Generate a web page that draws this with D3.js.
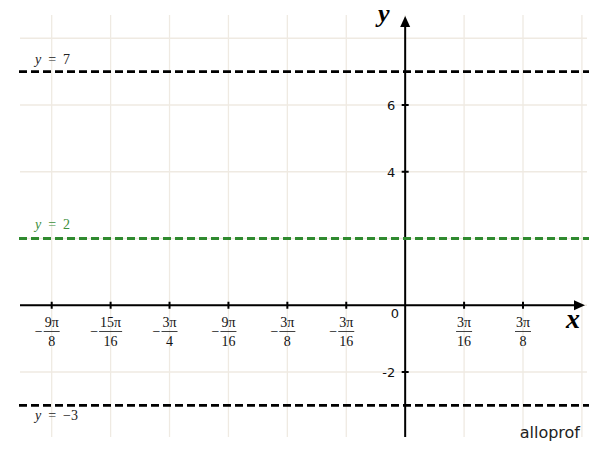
<!DOCTYPE html>
<html><head><meta charset="utf-8">
<script src="https://cdn.jsdelivr.net/npm/d3@7"></script>
<style>body{margin:0;background:#fff}svg{display:block}</style>
</head><body>
<script>
// Data (x in units of π)
const xTickValues = [-9/8, -15/16, -3/4, -9/16, -3/8, -3/16, 3/16, 3/8];
const xTickNum = ["9π","15π","3π","9π","3π","3π","3π","3π"];
const xTickDen = ["8","16","4","16","8","16","16","8"];
const xGridValues = [-9/8, -15/16, -3/4, -9/16, -3/8, -3/16, 0, 3/16, 3/8, 9/16];
const yTickValues = [6, 4, -2];
const yTickLabels = ["6", "4", "-2"];
const yGridValues = [8, 6, 4, 2, 0, -2];
const hLines = [7, 2, -3];
const hLineLabels = ["7", "2", "−3"];
const hLineColors = ["#000", "#2f8a2f", "#000"];
const hLineTextColors = ["#222", "#3d8f3d", "#222"];

const W = 600, H = 457;
const x = d3.scaleLinear().domain([-9/8, 3/8]).range([51.7, 523]);
const y = d3.scaleLinear().domain([6, -2]).range([105, 372]);

const svg = d3.select("body").append("svg").attr("width", W).attr("height", H);

const xLeft = 20, xRight = 587, yTop = 15, yBottom = 437;

// grid
svg.append("g").selectAll("line").data(xGridValues).join("line")
  .attr("x1", d => x(d)).attr("x2", d => x(d)).attr("y1", yTop).attr("y2", yBottom)
  .attr("stroke", "#efeae2").attr("stroke-width", 1.3);
svg.append("g").selectAll("line").data(yGridValues).join("line")
  .attr("x1", xLeft).attr("x2", xRight).attr("y1", d => y(d)).attr("y2", d => y(d))
  .attr("stroke", "#efeae2").attr("stroke-width", 1.3);

const x0 = x(0), y0 = y(0);

// axes
svg.append("line").attr("x1", xLeft).attr("x2", 576).attr("y1", y0).attr("y2", y0)
  .attr("stroke", "#000").attr("stroke-width", 2);
svg.append("path").attr("d", `M585,${y0} L574,${y0-5} L574,${y0+5} Z`).attr("fill", "#000");
svg.append("line").attr("x1", x0).attr("x2", x0).attr("y1", 25).attr("y2", yBottom)
  .attr("stroke", "#000").attr("stroke-width", 2);
svg.append("path").attr("d", `M${x0},16 L${x0-5},27 L${x0+5},27 Z`).attr("fill", "#000");

// x ticks
svg.append("g").selectAll("line").data(xTickValues).join("line")
  .attr("x1", d => x(d)).attr("x2", d => x(d)).attr("y1", y0 - 3.5).attr("y2", y0 + 3.5)
  .attr("stroke", "#000").attr("stroke-width", 2);
// y ticks
svg.append("g").selectAll("line").data(yTickValues).join("line")
  .attr("x1", x0 - 3.5).attr("x2", x0 + 3.5).attr("y1", d => y(d)).attr("y2", d => y(d))
  .attr("stroke", "#000").attr("stroke-width", 2);

// x tick labels (fractions)
const fx = svg.append("g").attr("font-family", "'Liberation Serif', serif").attr("font-size", 14).attr("fill", "#111");
xTickValues.forEach((v, i) => {
  const cx = x(v);
  const num = xTickNum[i], den = xTickDen[i];
  const wBar = Math.max(num.length, den.length) * 7 + 2;
  fx.append("text").attr("x", cx).attr("y", 327).attr("text-anchor", "middle").text(num);
  fx.append("line").attr("x1", cx - wBar/2).attr("x2", cx + wBar/2).attr("y1", 331.5).attr("y2", 331.5)
    .attr("stroke", "#111").attr("stroke-width", 0.8);
  fx.append("text").attr("x", cx).attr("y", 345.5).attr("text-anchor", "middle").text(den);
  if (v < 0) {
    fx.append("text").attr("x", cx - wBar/2 - 1).attr("y", 336).attr("text-anchor", "end").text("−");
  }
});

// y tick labels
svg.append("g").selectAll("text").data(yTickValues).join("text")
  .attr("x", x0 - 10).attr("y", d => y(d) + 5).attr("text-anchor", "end")
  .attr("font-family", "'DejaVu Sans', sans-serif").attr("font-size", 13).attr("fill", "#111")
  .text((d, i) => yTickLabels[i]);
svg.append("text").attr("x", 395).attr("y", 318).attr("text-anchor", "middle")
  .attr("font-family", "'DejaVu Sans', sans-serif").attr("font-size", 13).attr("fill", "#111").text("0");

// horizontal dashed lines
svg.append("g").selectAll("line").data(hLines).join("line")
  .attr("x1", 19).attr("x2", 589).attr("y1", d => y(d)).attr("y2", d => y(d))
  .attr("stroke", (d, i) => hLineColors[i]).attr("stroke-width", 2.8).attr("stroke-dasharray", "8,4");

// line labels
const labOffsets = [-8, -10, 15];
hLines.forEach((v, i) => {
  const t = svg.append("text").attr("x", 35).attr("y", y(v) + labOffsets[i])
    .attr("font-family", "'Liberation Serif', serif").attr("font-size", 14).attr("fill", hLineTextColors[i])
    .attr("xml:space", "preserve").style("white-space", "pre");
  t.append("tspan").attr("font-style", "italic").text("y");
  t.append("tspan").text("  =  " + hLineLabels[i]);
});

// axis names
svg.append("text").attr("x", 378).attr("y", 22).attr("font-family", "'Liberation Serif', serif")
  .attr("font-style", "italic").attr("font-weight", "bold").attr("font-size", 26).attr("fill", "#000").text("y");
svg.append("text").attr("x", 566).attr("y", 328).attr("font-family", "'Liberation Serif', serif")
  .attr("font-style", "italic").attr("font-weight", "bold").attr("font-size", 28).attr("fill", "#000").text("x");

// logo
svg.append("text").attr("x", 580).attr("y", 438).attr("text-anchor", "end")
  .attr("font-family", "'DejaVu Sans', sans-serif").attr("font-size", 16).attr("fill", "#222").text("alloprof");
</script>
</body></html>
